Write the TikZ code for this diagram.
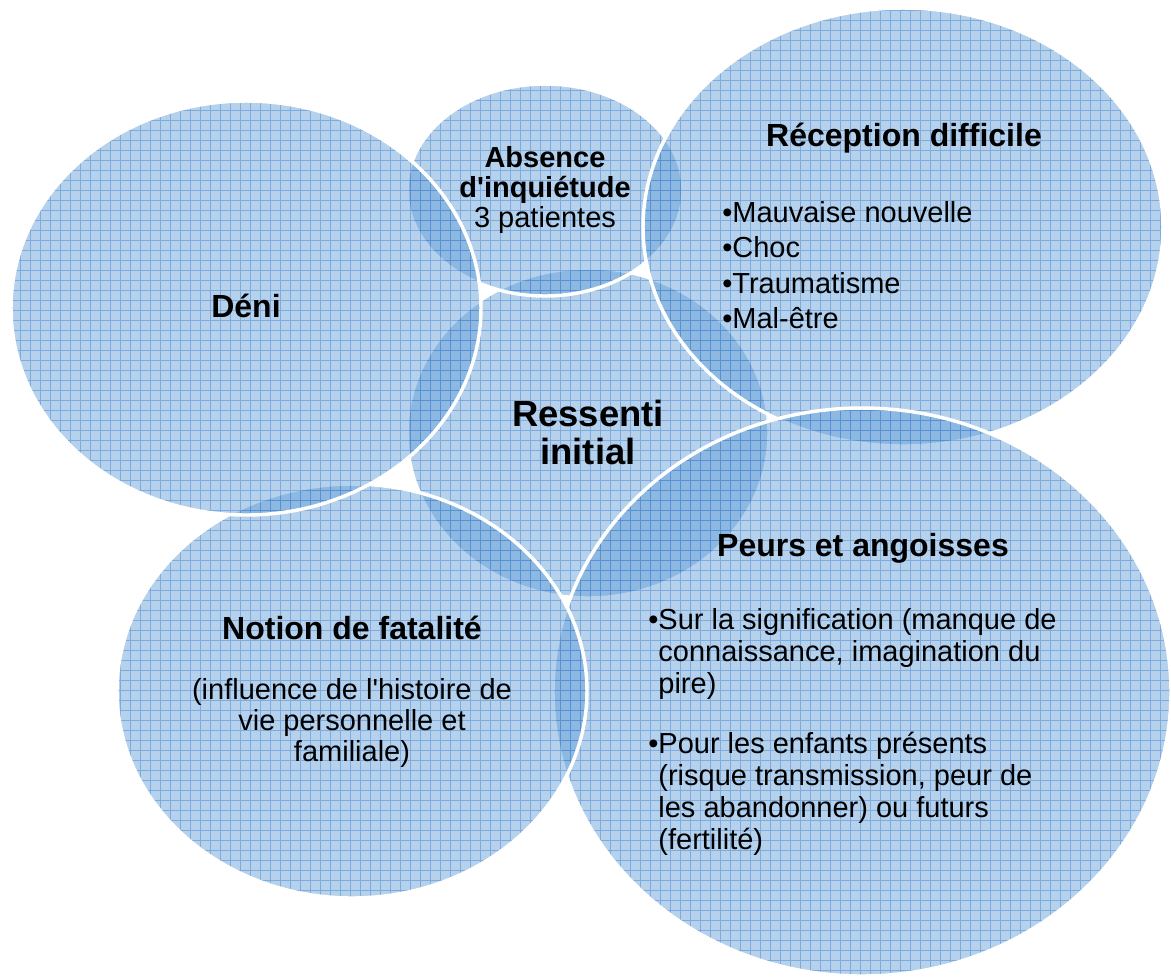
\documentclass[tikz,border=0pt]{standalone}
\usepackage{fontspec}
\setmainfont{Liberation Sans}[Ligatures=TeXOff]
\definecolor{bubblefill}{RGB}{91,155,213}
\definecolor{gridblue}{RGB}{60,125,205}
\tikzset{
  x=0.75pt, y=-0.75pt,
  bubblebody/.style={fill=bubblefill, fill opacity=0.45},
  bubblegrid/.style={draw=gridblue, draw opacity=0.45, line width=0.5pt},
  bubbleedge/.style={draw=white, line width=2.6pt},
  title/.style={font=\bfseries\fontsize{24}{27}\selectfont, text=black, align=center, inner sep=0pt},
  body/.style={font=\fontsize{21.75}{24}\selectfont, text=black, inner sep=0pt},
}
% #1 name, #2 cx, #3 cy, #4 rx, #5 ry (pixels)
\newcommand\vennbubble[5]{%
  \coordinate (#1) at (#2,#3);
  \path[bubblebody] (#1) ellipse [x radius=#4, y radius=#5];
  \begin{scope}
    \clip (#1) ellipse [x radius=#4, y radius=#5];
    \draw[bubblegrid, step=7.5pt] (0,976) grid (1171,0);
  \end{scope}
  \path[bubbleedge] (#1) ellipse [x radius=#4, y radius=#5];
}
\begin{document}
\begin{tikzpicture}
\useasboundingbox (0,0) rectangle (1171,976);
\fill[white] (0,0) rectangle (1171,976);
% bubbles, drawn from bottom to top
\vennbubble{centre}{588}{433}{181}{165}
\vennbubble{absence}{545}{190}{138}{106}
\vennbubble{reception}{903}{227}{260}{219}
\vennbubble{peurs}{862}{692}{309}{284}
\vennbubble{notion}{352}{691}{235}{207}
\vennbubble{deni}{246}{308}{235}{207}
% texts
\node[title] (tdeni) at (246,306) {Déni};
\node[title, font=\bfseries\fontsize{21.75}{22.5}\selectfont] (tabs) at (545,190)
  {Absence\\d'inquiétude\\{\mdseries 3 patientes}};
\node[title] (trec) at (904,138) {Réception difficile};
\node[body, align=left, anchor=west, font=\fontsize{21.75}{26.6}\selectfont] (brec) at (722,265)
  {•Mauvaise nouvelle\\•Choc\\•Traumatisme\\•Mal-être};
\node[title, font=\bfseries\fontsize{27.3}{28.5}\selectfont] (tres) at (588,432) {Ressenti\\initial};
\node[title] (tpeu) at (863,548) {Peurs et angoisses};
\node[body, align=left, anchor=west] (bpeu) at (648,732)
  {•Sur la signification (manque de\\\phantom{•}connaissance, imagination du\\\phantom{•}pire)\\[21pt]%
   •Pour les enfants présents\\\phantom{•}(risque transmission, peur de\\\phantom{•}les abandonner) ou futurs\\\phantom{•}(fertilité)};
\node[title] (tnot) at (352,628) {Notion de fatalité};
\node[body, align=center, font=\fontsize{21.75}{23}\selectfont] (bnot) at (352,723)
  {(influence de l'histoire de\\vie personnelle et\\familiale)};
\end{tikzpicture}
\end{document}
